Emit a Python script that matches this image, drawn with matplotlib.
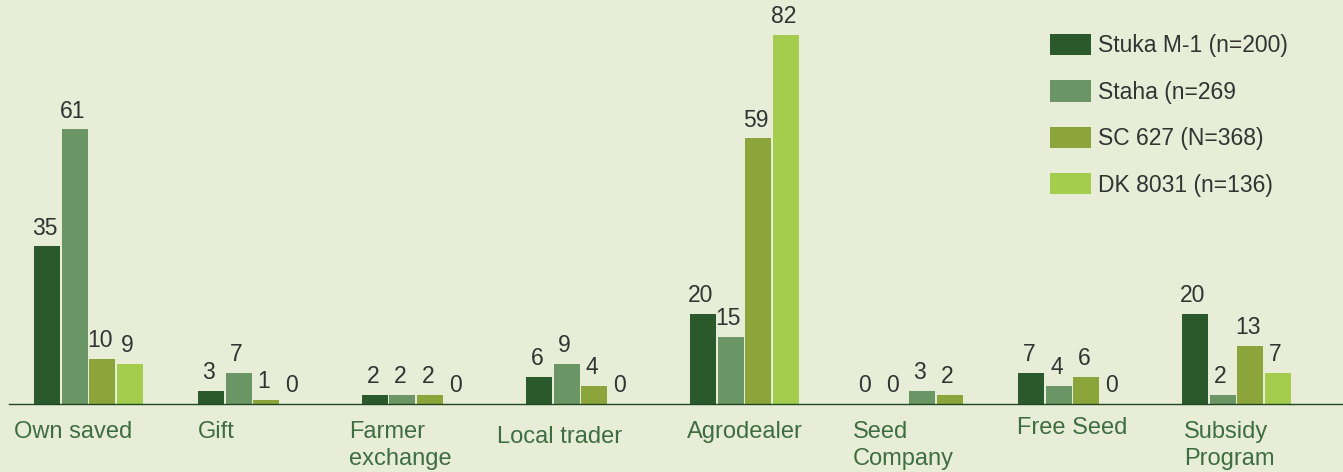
import numpy as np
import matplotlib.pyplot as plt
from matplotlib.patches import Patch

# datos
categorias = ["Own saved", "Gift", "Farmer\nexchange", "Local trader",
              "Agrodealer", "Seed\nCompany", "Free Seed", "Subsidy\nProgram"]
series = ["Stuka M-1 (n=200)", "Staha (n=269", "SC 627 (N=368)", "DK 8031 (n=136)"]
stuka = [35, 3, 2, 6, 20, 0, 7, 20]
staha = [61, 7, 2, 9, 15, 0, 4, 2]
sc627 = [10, 1, 2, 4, 59, 3, 6, 13]
dk8031 = [9, 0, 0, 0, 82, 2, 0, 7]
valores = [stuka, staha, sc627, dk8031]

# estilo
fondo = "#e8edd8"
colores = ["#2a5a2b", "#6a9565", "#8ba53b", "#a4cd4e"]
verde_texto = "#3e6e40"
gris = "#333333"
# en el original, "Seed Company" usa los colores corridos una posicion
corrimiento = [0, 0, 0, 0, 0, -1, 0, 0]
# ajuste a mano de las etiquetas de categoria (px)
etiqueta_dx = [-20, 0, -13, -29, -3, -1, -1, 2]
etiqueta_dy = [0, 0, 0, -5, 0, 0, 4, 0]

W, H = 1343, 472
paso_px = 164.0
x0_px = 34.0
slot = 27.5 / paso_px
ancho = 26.0 / paso_px
px_por_unidad = 4.5
base_px = 404

plt.rcParams['font.family'] = ['Liberation Sans', 'DejaVu Sans']

fig = plt.figure(figsize=(W / 100, H / 100), dpi=100, facecolor=fondo)
izq = 9
ax = fig.add_axes([izq / W, (H - base_px) / H, (W - izq) / W, base_px / H])
ax.set_facecolor(fondo)
ax.set_xlim((izq - x0_px) / paso_px, (W - x0_px) / paso_px)
ax.set_ylim(0, base_px / px_por_unidad)

x = np.arange(len(categorias))
for j, vals in enumerate(valores):
    izquierdas = x + j * slot
    cols = [colores[(j + corrimiento[i]) % 4] for i in range(len(categorias))]
    ax.bar(izquierdas, vals, width=ancho, align='edge', color=cols, linewidth=0)
    for xi, v in zip(izquierdas, vals):
        ax.annotate(str(v), (xi + ancho / 2, v), xytext=(-1.5, 5),
                    textcoords='offset points', ha='center', va='bottom',
                    fontsize=16.5, color=gris)

for i, cat in enumerate(categorias):
    ax.annotate(cat, (x[i], 0), xytext=(etiqueta_dx[i] * 0.72, (-17 + etiqueta_dy[i]) * 0.72),
                textcoords='offset points', ha='left', va='top', fontsize=17,
                color=verde_texto, linespacing=1.3, annotation_clip=False)

for s in ['top', 'right', 'left']:
    ax.spines[s].set_visible(False)
ax.spines['bottom'].set_color("#1e4620")
ax.spines['bottom'].set_linewidth(1.0)
ax.set_xticks([])
ax.set_yticks([])

handles = [Patch(facecolor=c, edgecolor='none', label=s) for c, s in zip(colores, series)]
ax.legend(handles=handles, loc='upper left', bbox_to_anchor=(1050 / W, 1 - 34 / H),
          bbox_transform=fig.transFigure, frameon=False, fontsize=16.5,
          handlelength=1.79, handleheight=1.05, handletextpad=0.3,
          labelspacing=1.0, borderpad=0, borderaxespad=0, labelcolor=gris)

fig.savefig("out.png", dpi=100, facecolor=fondo)
